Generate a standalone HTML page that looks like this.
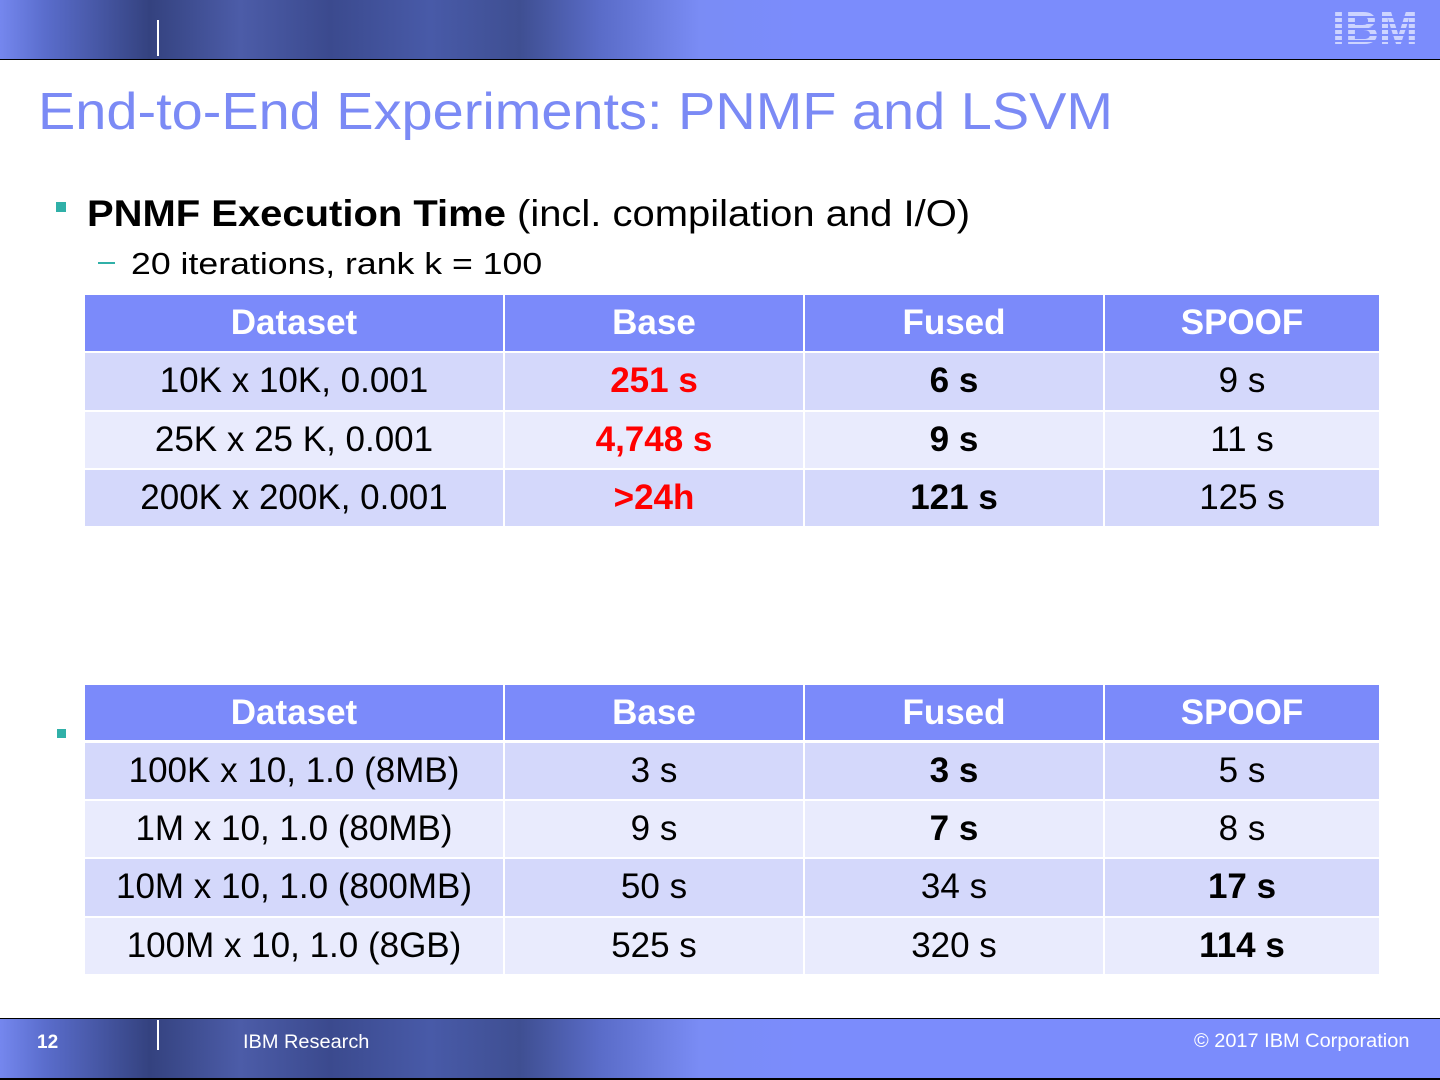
<!DOCTYPE html>
<html><head><meta charset="utf-8"><style>
*{margin:0;padding:0;box-sizing:border-box}
body{width:1440px;height:1080px;background:#fff;position:relative;overflow:hidden;font-family:"Liberation Sans",Arial,sans-serif}
.ban{position:absolute;left:0;width:1440px;background:linear-gradient(90deg,#7587ee 0px,#5a6dcc 45px,#34427f 150px,#4c5ca8 240px,#3b4a8e 330px,#485aa8 430px,#3f4f92 520px,#5a6cc8 600px,#7a8cf5 700px,#7b8cfc 800px,#7b8cfc 1440px)}
.t{position:absolute;font-size:35px;color:#000;text-align:center;line-height:56px;white-space:nowrap}
.h{color:#fff;font-weight:bold;background:#7b8afa}
.r1{background:#d4d8fb}.r2{background:#e9ebfd}
.b{font-weight:bold}.red{color:#f00;font-weight:bold}
.sx{display:inline-block;transform-origin:left center;white-space:nowrap}
</style></head><body>
<div class="ban" style="top:0;height:59px"></div>
<div style="position:absolute;top:59px;left:0;width:1440px;height:1px;background:#000"></div>
<div style="position:absolute;left:157px;top:20px;width:2px;height:36px;background:#fff"></div>
<div style="position:absolute;left:1332px;top:6px;width:98px;height:44px;overflow:hidden">
<div style="color:#cdd4ff;font:bold 46px 'Liberation Sans',sans-serif;line-height:44px;transform:scaleX(1.02);transform-origin:left">IBM</div>
<div style="position:absolute;inset:0;background:repeating-linear-gradient(180deg,transparent 0 4px,#7b8cfc 4px 6px)"></div>
</div>
<div style="position:absolute;left:38px;top:80px;font-size:52px;color:#7b8af5;line-height:64px"><span class="sx" style="transform:scaleX(1.075)">End-to-End Experiments: PNMF and LSVM</span></div>
<div style="position:absolute;left:56px;top:202px;width:10px;height:10px;background:#30b0a8"></div>
<div style="position:absolute;left:87px;top:192px;font-size:37px;line-height:44px"><span class="sx" style="transform:scaleX(1.08)"><b>PNMF Execution Time</b> (incl. compilation and I/O)</span></div>
<div style="position:absolute;left:98px;top:262px;width:17px;height:2px;background:#30b0a8"></div>
<div style="position:absolute;left:131px;top:245px;font-size:31px;line-height:38px"><span class="sx" style="transform:scaleX(1.15)">20 iterations, rank k = 100</span></div>
<div style="position:absolute;left:57px;top:729px;width:9px;height:9px;background:#30b0a8"></div>

<div class="t h" style="left:85px;top:295px;width:418px">Dataset</div>
<div class="t h" style="left:505px;top:295px;width:298px">Base</div>
<div class="t h" style="left:805px;top:295px;width:298px">Fused</div>
<div class="t h" style="left:1105px;top:295px;width:274px">SPOOF</div>

<div class="t r1" style="left:85px;top:353px;width:418px;height:57px">10K x 10K, 0.001</div>
<div class="t r1 red" style="left:505px;top:353px;width:298px;height:57px">251 s</div>
<div class="t r1 b" style="left:805px;top:353px;width:298px;height:57px">6 s</div>
<div class="t r1" style="left:1105px;top:353px;width:274px;height:57px">9 s</div>

<div class="t r2" style="left:85px;top:412px;width:418px;height:56px">25K x 25 K, 0.001</div>
<div class="t r2 red" style="left:505px;top:412px;width:298px;height:56px">4,748 s</div>
<div class="t r2 b" style="left:805px;top:412px;width:298px;height:56px">9 s</div>
<div class="t r2" style="left:1105px;top:412px;width:274px;height:56px">11 s</div>

<div class="t r1" style="left:85px;top:470px;width:418px;height:56px">200K x 200K, 0.001</div>
<div class="t r1 red" style="left:505px;top:470px;width:298px;height:56px">&gt;24h</div>
<div class="t r1 b" style="left:805px;top:470px;width:298px;height:56px">121 s</div>
<div class="t r1" style="left:1105px;top:470px;width:274px;height:56px">125 s</div>

<div class="t h" style="left:85px;top:685px;width:418px;height:55px;line-height:55px">Dataset</div>
<div class="t h" style="left:505px;top:685px;width:298px;height:55px;line-height:55px">Base</div>
<div class="t h" style="left:805px;top:685px;width:298px;height:55px;line-height:55px">Fused</div>
<div class="t h" style="left:1105px;top:685px;width:274px;height:55px;line-height:55px">SPOOF</div>

<div class="t r1" style="left:85px;top:743px;width:418px;height:56px">100K x 10, 1.0 (8MB)</div>
<div class="t r1" style="left:505px;top:743px;width:298px;height:56px">3 s</div>
<div class="t r1 b" style="left:805px;top:743px;width:298px;height:56px">3 s</div>
<div class="t r1" style="left:1105px;top:743px;width:274px;height:56px">5 s</div>

<div class="t r2" style="left:85px;top:801px;width:418px;height:56px">1M x 10, 1.0 (80MB)</div>
<div class="t r2" style="left:505px;top:801px;width:298px;height:56px">9 s</div>
<div class="t r2 b" style="left:805px;top:801px;width:298px;height:56px">7 s</div>
<div class="t r2" style="left:1105px;top:801px;width:274px;height:56px">8 s</div>

<div class="t r1" style="left:85px;top:859px;width:418px;height:57px">10M x 10, 1.0 (800MB)</div>
<div class="t r1" style="left:505px;top:859px;width:298px;height:57px">50 s</div>
<div class="t r1" style="left:805px;top:859px;width:298px;height:57px">34 s</div>
<div class="t r1 b" style="left:1105px;top:859px;width:274px;height:57px">17 s</div>

<div class="t r2" style="left:85px;top:918px;width:418px;height:56px">100M x 10, 1.0 (8GB)</div>
<div class="t r2" style="left:505px;top:918px;width:298px;height:56px">525 s</div>
<div class="t r2" style="left:805px;top:918px;width:298px;height:56px">320 s</div>
<div class="t r2 b" style="left:1105px;top:918px;width:274px;height:56px">114 s</div>

<div style="position:absolute;top:1018px;left:0;width:1440px;height:1px;background:#000"></div>
<div class="ban" style="top:1019px;height:59px"></div>
<div style="position:absolute;top:1078px;left:0;width:1440px;height:2px;background:#000"></div>
<div style="position:absolute;left:157px;top:1020px;width:2px;height:30px;background:#fff"></div>
<div style="position:absolute;left:37px;top:1032px;color:#fff;font-weight:bold;font-size:19px">12</div>
<div style="position:absolute;left:243px;top:1032px;color:#fff;font-size:19px"><span class="sx" style="transform:scaleX(1.05)">IBM Research</span></div>
<div style="position:absolute;left:1194px;top:1031px;color:#fff;font-size:19px"><span class="sx" style="transform:scaleX(1.05)">© 2017 IBM Corporation</span></div>
</body></html>
